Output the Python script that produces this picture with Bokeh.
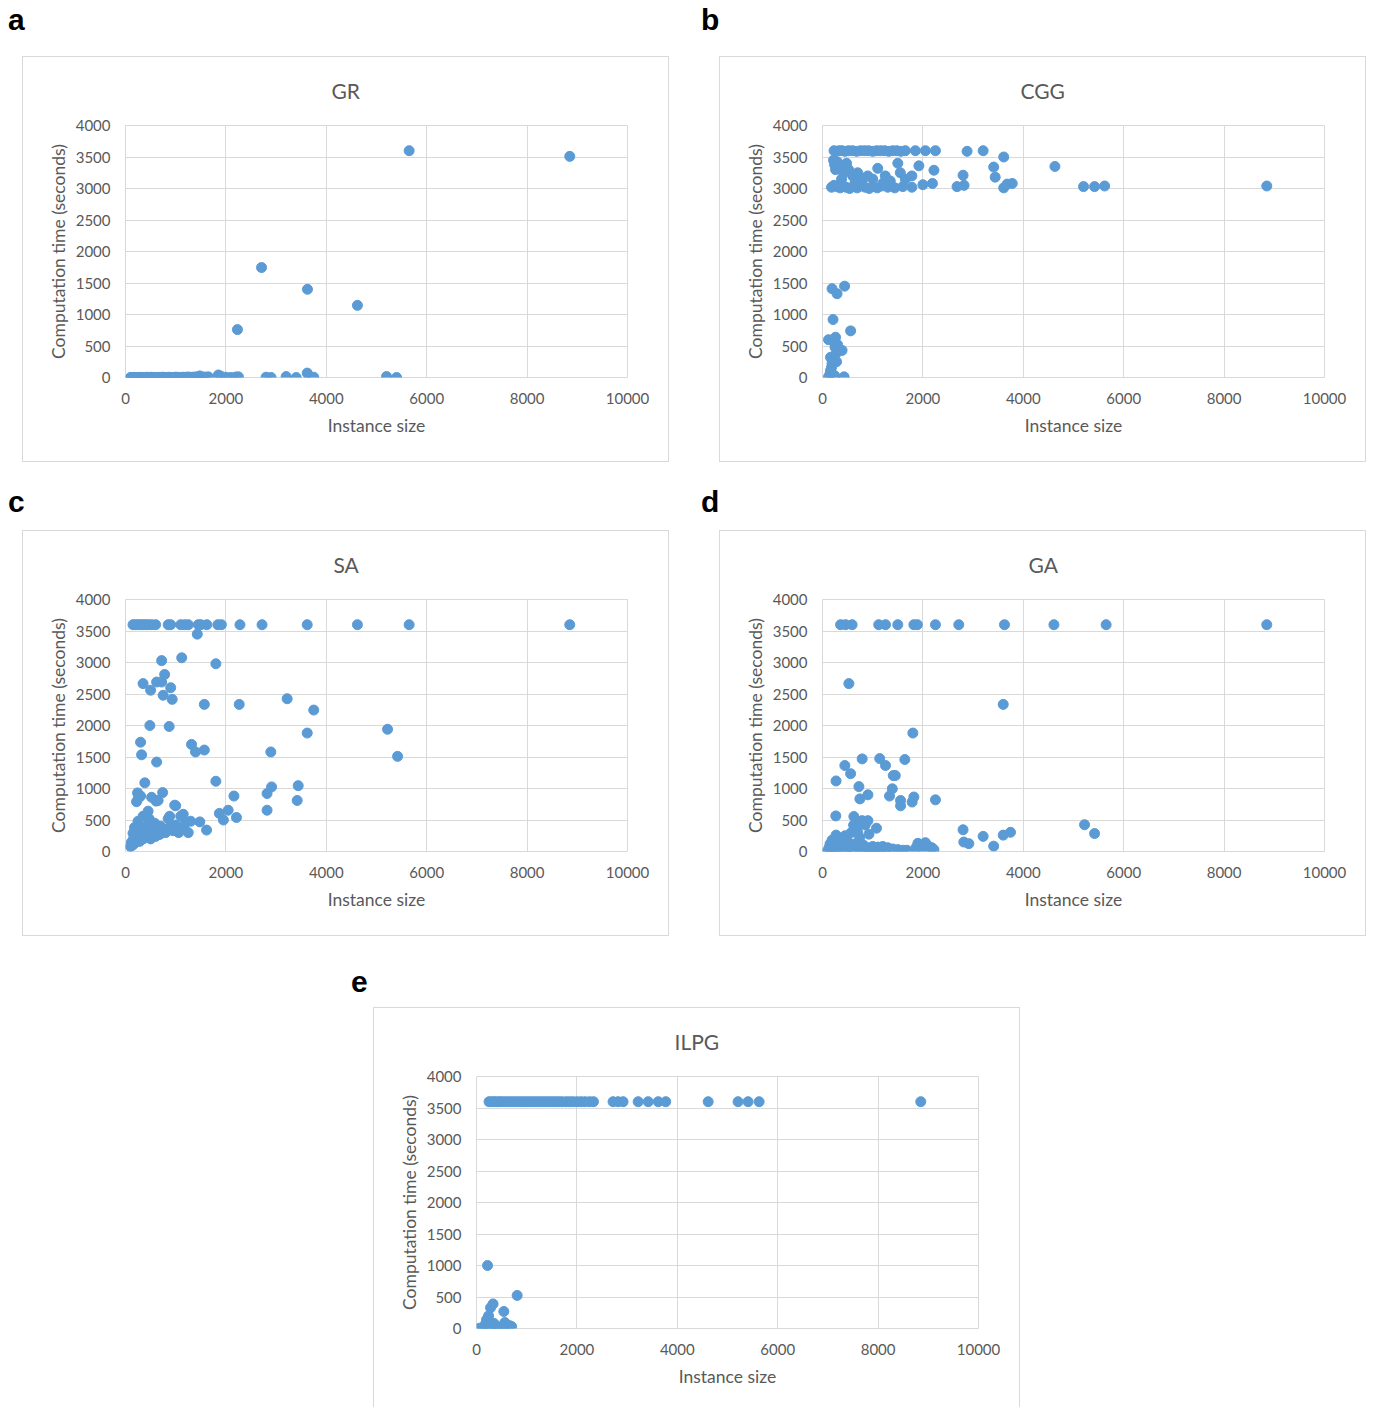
from bokeh.plotting import figure
from bokeh.models import Range1d, FixedTicker, Div, Spacer
from bokeh.layouts import column, row
from bokeh.embed import file_html
from bokeh.resources import INLINE

# ---------------- data ----------------
x_ticks = [0, 2000, 4000, 6000, 8000, 10000]
y_ticks = [0, 500, 1000, 1500, 2000, 2500, 3000, 3500, 4000]

titles = ["GR", "CGG", "SA", "GA", "ILPG"]
letters = ["a", "b", "c", "d", "e"]

# a: GR
gr_x = [100, 120, 140, 160, 180, 200, 230, 260, 290, 320,
        350, 380, 410, 440, 470, 500, 540, 580, 620, 660,
        700, 740, 780, 820, 860, 900, 950, 1000, 1050, 1100,
        1150, 1200, 1250, 1300, 1350, 1400, 1450, 1480, 1520, 1560,
        1600, 1650,
        1850, 1900, 2000, 2100, 2200, 2250, 2800, 2900, 3200, 3400,
        3620, 3750, 5200, 5400,
        2230, 2710, 3625, 4620, 5650, 8850]
gr_y = [0, 0, 1, 0, 2, 0, 1, 3, 0, 2,
        1, 0, 3, 2, 0, 4, 1, 2, 0, 3,
        1, 5, 2, 0, 4, 2, 1, 6, 3, 2,
        5, 4, 8, 3, 6, 9, 12, 25, 5, 8,
        4, 10,
        40, 20, 5, 0, 8, 10, 5, 0, 15, 0,
        70, 5, 15, 0,
        760, 1745, 1400, 1145, 3600, 3510]

# b: CGG
cgg_x = [230, 280, 330, 390, 450, 520, 600, 680, 760, 840,
         920, 1000, 1080, 1160, 1240, 1320, 1400, 1480, 1560, 1650,
         1850, 2050, 2250, 2880, 3200,
         3610, 4630,
         220, 240, 300, 260, 350, 420, 480, 520, 600, 700,
         800, 900, 1100, 1000, 1250, 1350, 1500, 1550, 1650, 1920,
         1780, 2220, 2800, 3410, 3440, 380, 650, 1200,
         180, 230, 290, 350, 410, 470, 540, 610, 690, 770,
         850, 930, 1010, 1090, 1180, 1300, 1440, 1600, 1780, 2000,
         2190, 2680, 2820, 3610, 3680, 3780, 5200, 5420, 5620, 8850,
         190, 290, 440, 210, 560, 120, 260, 390, 160, 190,
         160, 120, 430, 230, 250, 270, 210, 180, 150, 280,
         240, 300]
cgg_y = [3600, 3590, 3600, 3600, 3590, 3600, 3600, 3590, 3600, 3600,
         3600, 3590, 3600, 3600, 3600, 3590, 3600, 3600, 3590, 3600,
         3600, 3600, 3600, 3590, 3600,
         3500, 3350,
         3450, 3380, 3420, 3300, 3350, 3250, 3400, 3300, 3200, 3250,
         3150, 3200, 3320, 3150, 3200, 3120, 3400, 3250, 3150, 3360,
         3200, 3290, 3210, 3340, 3180, 3150, 3100, 3080,
         3020, 3050, 3030, 3010, 3040, 3020, 3000, 3030, 3010, 3040,
         3020, 3000, 3030, 3010, 3040, 3020, 3010, 3030, 3020, 3060,
         3080, 3030, 3050, 3010, 3070, 3080, 3030, 3030, 3040, 3040,
         1410, 1330, 1450, 920, 740, 600, 640, 430, 320, 220,
         110, 10, 10, 560, 480, 380, 270, 160, 60, 250,
         30, 520]

# c: SA
sa_x = [150, 200, 250, 300, 350, 400, 450, 520, 600, 850,
        900, 1100, 1180, 1250, 1450, 1500, 1620, 1840, 1910, 2280,
        2720, 3620, 4620, 5650, 8850,
        1430, 720, 1120, 1800, 780, 350, 620, 720, 500, 900,
        750, 930, 1570, 2265, 3220, 3750, 485, 870, 3620, 5220,
        300, 1315, 1395, 1570, 2895, 320, 620, 5420, 385, 1800,
        2910, 3440, 2820, 2160, 740, 240, 300, 220, 650, 3420,
        2820, 1000, 1870, 2045, 2210, 1950, 1480, 1615,
        100, 120, 140, 160, 180, 200, 220, 240, 260, 280,
        300, 320, 350, 380, 400, 420, 450, 470, 500, 520,
        550, 580, 600, 640, 680, 700, 750, 800, 850, 880,
        950, 1000, 1060, 1100, 1150, 1200, 1250, 1300, 450, 350,
        250, 180, 150, 610, 520, 260, 980, 1150, 880]
sa_y = [3600, 3600, 3600, 3600, 3600, 3600, 3600, 3600, 3600, 3600,
        3600, 3600, 3600, 3600, 3600, 3600, 3600, 3600, 3600, 3600,
        3600, 3600, 3600, 3600, 3600,
        3450, 3030, 3075, 2980, 2810, 2665, 2690, 2690, 2560, 2600,
        2480, 2415, 2335, 2335, 2425, 2245, 2000, 1985, 1880, 1940,
        1735, 1700, 1580, 1610, 1580, 1535, 1420, 1510, 1090, 1115,
        1025, 1045, 920, 880, 935, 930, 880, 790, 810, 810,
        655, 725, 605, 655, 540, 500, 470, 340,
        80, 150, 100, 200, 130, 250, 180, 300, 220, 160,
        350, 260, 200, 320, 250, 400, 300, 520, 200, 350,
        280, 450, 240, 330, 270, 400, 350, 300, 520, 380,
        330, 420, 300, 560, 380, 460, 300, 480, 640, 560,
        480, 380, 290, 800, 860, 850, 735, 590, 560]

# d: GA
ga_x = [360, 460, 590, 1120, 1255, 1500, 1820, 1890, 2250, 2715,
        3625, 4610, 5650, 8850,
        525, 3600, 1800, 790, 1140, 1640, 445, 1255, 560, 1410,
        1450, 270, 725, 1390, 905, 1335, 745, 1555, 1555, 1820,
        1785, 2250, 265, 625, 790, 905, 1075, 925, 2800, 3200,
        3600, 3745, 2815, 2915, 3410, 5220, 5420,
        100, 130, 150, 170, 190, 210, 230, 250, 270, 300,
        330, 360, 390, 420, 450, 480, 510, 540, 570, 600,
        640, 680, 700, 740, 780, 820, 860, 900, 950, 1000,
        1050, 1100, 1150, 1200, 1250, 1300, 1400, 1500, 1600, 1680,
        1860, 1900, 1950, 2000, 2050, 2100, 2180, 2220, 700, 620,
        850, 760]
ga_y = [3600, 3600, 3600, 3600, 3600, 3600, 3600, 3600, 3600, 3600,
        3600, 3600, 3600, 3600,
        2665, 2335, 1880, 1470, 1475, 1460, 1365, 1365, 1235, 1205,
        1205, 1120, 1030, 995, 900, 880, 835, 810, 725, 865,
        785, 820, 565, 555, 490, 490, 370, 275, 345, 240,
        260, 305, 150, 125, 85, 425, 285,
        10, 60, 120, 30, 180, 80, 20, 150, 260, 50,
        110, 200, 30, 90, 250, 40, 150, 70, 300, 20,
        120, 380, 60, 220, 30, 100, 40, 60, 20, 80,
        40, 70, 30, 80, 20, 60, 40, 30, 20, 20,
        60, 130, 100, 40, 140, 90, 60, 30, 300, 420,
        420, 480]

# e: ILPG
ilpg_x = [250, 300, 350, 400, 450, 500, 560, 620, 680, 740,
          800, 860, 920, 980, 1040, 1100, 1160, 1220, 1280, 1340,
          1400, 1460, 1520, 1580, 1640, 1700, 1780, 1850, 1920, 2000,
          2080, 2160, 2250, 2330, 2720, 2820, 2920, 3220, 3420, 3620,
          3770, 4615, 5210, 5410, 5630, 8850,
          220, 810, 330, 280, 545, 240, 200, 130, 430, 565,
          660, 60, 170, 300, 350, 250, 380, 470, 520, 600,
          700]
ilpg_y = [3600, 3600, 3600, 3600, 3600, 3600, 3600, 3600, 3600, 3600,
          3600, 3600, 3600, 3600, 3600, 3600, 3600, 3600, 3600, 3600,
          3600, 3600, 3600, 3600, 3600, 3600, 3600, 3600, 3600, 3600,
          3600, 3600, 3600, 3600, 3600, 3600, 3600, 3600, 3600, 3600,
          3600, 3600, 3600, 3600, 3600, 3600,
          1000, 525, 390, 330, 270, 200, 140, 10, 10, 95,
          45, 5, 60, 20, 80, 0, 30, 0, 40, 60,
          30]

series_x = [gr_x, cgg_x, sa_x, ga_x, ilpg_x]
series_y = [gr_y, cgg_y, sa_y, ga_y, ilpg_y]

# ---------------- style ----------------
FONT = "Lato"
TXT = "#595959"
GRID = "#d9d9d9"
DOT = "#5B9BD5"
BOX = "#d9d9d9"
# left offset of each (left-aligned) title from the plot frame, so that it is
# centred on its panel box
TITLE_OFFSET = {"GR": 206, "CGG": 198, "SA": 208, "GA": 206, "ILPG": 198}


def make_panel(title, xs, ys, height=406, min_bottom=86, border_bottom=True):
    styles = {
        "border-left": f"1px solid {BOX}",
        "border-right": f"1px solid {BOX}",
        "border-top": f"1px solid {BOX}",
    }
    if border_bottom:
        styles["border-bottom"] = f"1px solid {BOX}"
    p = figure(width=647, height=height,
               x_range=Range1d(x_ticks[0], x_ticks[-1]),
               y_range=Range1d(y_ticks[0], y_ticks[-1]),
               output_backend="svg", toolbar_location=None,
               min_border_left=102, min_border_right=43,
               min_border_top=68, min_border_bottom=min_bottom,
               x_axis_label="Instance size",
               y_axis_label="Computation time (seconds)",
               background_fill_color="white", border_fill_color="white",
               outline_line_color=GRID, outline_line_width=1,
               styles=styles)
    p.title.text = title
    p.title.align = "left"
    p.title.vertical_align = "top"
    p.title.offset = TITLE_OFFSET[title]
    p.title.standoff = 41
    p.title.text_font = FONT
    p.title.text_font_size = "21px"
    p.title.text_font_style = "normal"
    p.title.text_color = TXT

    p.xaxis.ticker = FixedTicker(ticks=x_ticks)
    p.yaxis.ticker = FixedTicker(ticks=y_ticks)
    p.axis.axis_line_color = None
    p.axis.major_tick_line_color = None
    p.axis.minor_tick_line_color = None
    p.axis.major_tick_in = 0
    p.axis.major_tick_out = 0
    p.axis.minor_tick_in = 0
    p.axis.minor_tick_out = 0
    p.axis.major_label_text_font = FONT
    p.axis.major_label_text_font_size = "15px"
    p.axis.major_label_text_color = TXT
    p.axis.axis_label_text_font = FONT
    p.axis.axis_label_text_font_size = "17.5px"
    p.axis.axis_label_text_font_style = "normal"
    p.axis.axis_label_text_color = TXT
    p.yaxis.major_label_standoff = 15
    p.xaxis.major_label_standoff = 15
    p.yaxis.axis_label_standoff = 4
    p.xaxis.axis_label_standoff = 8

    p.grid.grid_line_color = GRID
    p.grid.grid_line_width = 1

    p.scatter(xs, ys, size=10, fill_color=DOT, line_color=DOT, fill_alpha=1.0)
    return p


def letter(ch, width, height):
    html = ("<div style=\"font-family:'Liberation Sans',Arial,sans-serif;"
            "font-weight:bold;font-size:30px;line-height:34px;color:#000;\">"
            + ch + "</div>")
    return Div(text=html, width=width, height=height, margin=0)


pa = make_panel(titles[0], series_x[0], series_y[0])
pb = make_panel(titles[1], series_x[1], series_y[1])
pc = make_panel(titles[2], series_x[2], series_y[2])
pd = make_panel(titles[3], series_x[3], series_y[3])
pe = make_panel(titles[4], series_x[4], series_y[4], height=400, min_bottom=80,
                border_bottom=False)

layout = column(
    Spacer(width=10, height=3),
    row(Spacer(width=8, height=53), letter(letters[0], 693, 53), letter(letters[1], 200, 53)),
    row(Spacer(width=22, height=406), pa, Spacer(width=50, height=406), pb),
    Spacer(width=10, height=23),
    row(Spacer(width=8, height=45), letter(letters[2], 693, 45), letter(letters[3], 200, 45)),
    row(Spacer(width=22, height=406), pc, Spacer(width=50, height=406), pd),
    Spacer(width=10, height=29),
    row(Spacer(width=351, height=42), letter(letters[4], 100, 42)),
    row(Spacer(width=373, height=400), pe),
)

open("out.html", "w").write(file_html(layout, INLINE))
